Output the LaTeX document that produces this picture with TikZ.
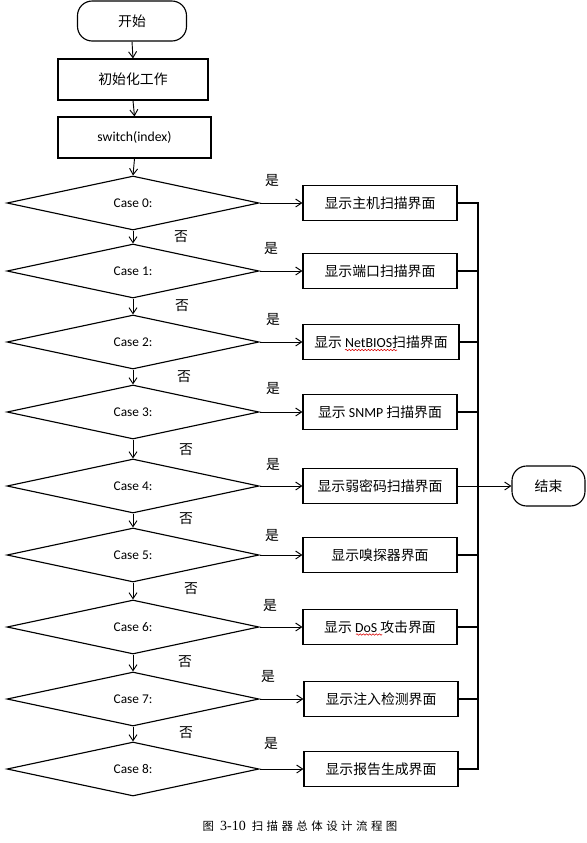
\documentclass[tikz,border=0pt]{standalone}
\usepackage{fontspec}
\setmainfont{Carlito}
\newfontfamily\cjk{Noto Sans CJK SC}
\newfontfamily\capfont[LetterSpace=30]{Noto Sans CJK SC}
\newfontfamily\capnum{Liberation Serif}
\usetikzlibrary{arrows.meta,positioning,calc,shapes.geometric,decorations.pathmorphing}

\begin{document}
\begin{tikzpicture}[
  x=0.75pt, y=-0.75pt,
  font=\cjk\fontsize{10.4}{12}\selectfont,
  line width=0.85pt,
  term/.style={draw, rounded corners=11pt, minimum width=#1, minimum height=30pt, inner sep=1pt},
  proc/.style={draw, minimum width=#1, minimum height=30.75pt, inner sep=1pt},
  cond/.style={draw, diamond, inner sep=0pt, minimum width=189pt, minimum height=40.5pt, font=\rmfamily\fontsize{10}{12}\selectfont},
  scr/.style={draw, minimum width=#1, minimum height=26.25pt, inner sep=1pt},
  scr/.default=115.5pt,
  lbl/.style={inner sep=0pt},
  arr/.style={-{Straight Barb[length=4.5pt,width=6pt]}, line width=0.7pt},
  spell/.style={red!85!black, line width=0.4pt, decorate, decoration={snake, amplitude=0.55pt, segment length=2.4pt}},
  ]
\useasboundingbox (0,0) rectangle (586,843);
% start, init, switch
\node[term=81.75pt] (start) at (132,21)    {开始};
\node[proc=112.5pt] (init)  at (133,79.5)  {初始化工作};
\node[proc=114.75pt, font=\rmfamily\fontsize{10.3}{12}\selectfont] (sw) at (134.5,137.5) {switch(index)};
% cases
\node[cond] (c0) at (133,203) {Case 0:};
\node[cond] (c1) at (133,271) {Case 1:};
\node[cond] (c2) at (133,342) {Case 2:};
\node[cond] (c3) at (133,412) {Case 3:};
\node[cond] (c4) at (133,486) {Case 4:};
\node[cond] (c5) at (133,555) {Case 5:};
\node[cond] (c6) at (133,627) {Case 6:};
\node[cond] (c7) at (133,699) {Case 7:};
\node[cond] (c8) at (133,769) {Case 8:};
% screens
\node[scr] (s0) at (380,203) {显示主机扫描界面};
\node[scr] (s1) at (380,271) {显示端口扫描界面};
\node[scr=117pt] (s2) at (381,342) {显示 {\rmfamily NetBIOS}扫描界面};
\node[scr] (s3) at (380,412) {显示 {\rmfamily SNMP} 扫描界面};
\node[scr] (s4) at (380,486) {显示弱密码扫描界面};
\node[scr] (s5) at (380,555) {显示嗅探器界面};
\node[scr] (s6) at (380,627) {显示 {\rmfamily DoS} 攻击界面};
\node[scr] (s7) at (381,699) {显示注入检测界面};
\node[scr] (s8) at (381,769) {显示报告生成界面};
\node[term=54.75pt] (end) at (548.5,486) {结束};
% labels
\node[lbl] (y0) at (272,181) {是};
\node[lbl] (y1) at (271,249) {是};
\node[lbl] (y2) at (273,320) {是};
\node[lbl] (y3) at (273,389) {是};
\node[lbl] (y4) at (273,465) {是};
\node[lbl] (y5) at (272,536) {是};
\node[lbl] (y6) at (270,606) {是};
\node[lbl] (y7) at (268,677) {是};
\node[lbl] (y8) at (271,744) {是};
\node[lbl] (n0) at (181,237) {否};
\node[lbl] (n1) at (182,306) {否};
\node[lbl] (n2) at (184,377) {否};
\node[lbl] (n3) at (186,450) {否};
\node[lbl] (n4) at (186,519) {否};
\node[lbl] (n5) at (191,589) {否};
\node[lbl] (n6) at (185,662) {否};
\node[lbl] (n7) at (186,733) {否};
% caption
\node[lbl] (cap) at (300,826) {\capfont\fontsize{8.6}{10}\selectfont 图 {\capnum\fontsize{10.5}{10}\selectfont 3-10} 扫描器总体设计流程图};
% spell-check marks
\draw[spell] ($(s2.center)+(-36,8)$) -- ($(s2.center)+(16,8)$);
\draw[spell] ($(s6.center)+(-24,7.5)$) -- ($(s6.center)+(2,7.5)$);
% arrows
\draw[arr] (start.south) -- (init.north);
\draw[arr] (init.south) -- (sw.north);
\draw[arr] (sw.south) -- (c0.north);
\draw[arr] (c0.south) -- (c1.north);
\draw[arr] (c1.south) -- (c2.north);
\draw[arr] (c2.south) -- (c3.north);
\draw[arr] (c3.south) -- (c4.north);
\draw[arr] (c4.south) -- (c5.north);
\draw[arr] (c5.south) -- (c6.north);
\draw[arr] (c6.south) -- (c7.north);
\draw[arr] (c7.south) -- (c8.north);
\draw[arr] (c0.east) -- (s0.west);
\draw[arr] (c1.east) -- (s1.west);
\draw[arr] (c2.east) -- (s2.west);
\draw[arr] (c3.east) -- (s3.west);
\draw[arr] (c4.east) -- (s4.west);
\draw[arr] (c5.east) -- (s5.west);
\draw[arr] (c6.east) -- (s6.west);
\draw[arr] (c7.east) -- (s7.west);
\draw[arr] (c8.east) -- (s8.west);
% collector
\coordinate (busT) at (478,203);
\coordinate (busB) at (478,769);
\draw (s0.east) -- (busT) -- (busB) -- (s8.east);
\draw (s1.east) -- (s1.east -| busT);
\draw (s2.east) -- (s2.east -| busT);
\draw (s3.east) -- (s3.east -| busT);
\draw (s5.east) -- (s5.east -| busT);
\draw (s6.east) -- (s6.east -| busT);
\draw (s7.east) -- (s7.east -| busT);
\draw[arr] (s4.east) -- (end.west);
\end{tikzpicture}
\end{document}
